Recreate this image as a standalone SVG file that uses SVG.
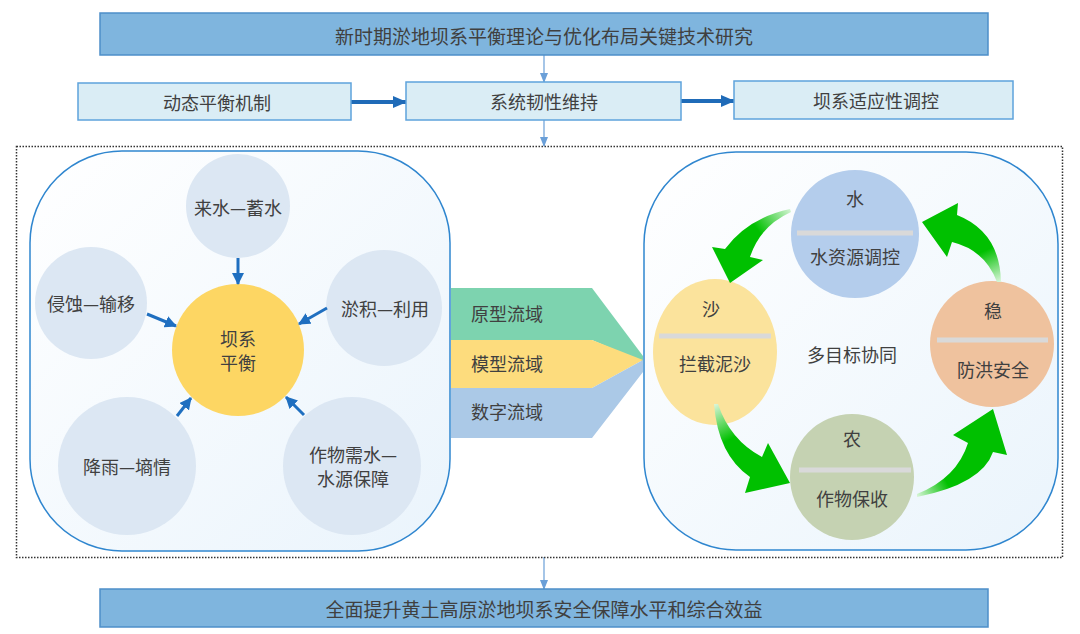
<svg xmlns="http://www.w3.org/2000/svg" width="1080" height="634" viewBox="0 0 1080 634">
<defs>
<style>
text{font-family:"Noto Sans CJK SC","Noto Sans",sans-serif;fill:#404040;font-size:18px;text-anchor:middle;dominant-baseline:central}
.big{font-size:19px}
.top{fill:#7fb5de;stroke:#4d8fc9;stroke-width:1.5}
.row{fill:#daedf5;stroke:#5ea3dc;stroke-width:1.5}
.panel{stroke:#2f86cf;stroke-width:1.5}
.sat{fill:#dce7f3}
.bar{stroke:#d9d9d9;stroke-width:5}
.thin{stroke:#6a9fd8;stroke-width:1.2;fill:none}
.thick{stroke:#1f6bb8;stroke-width:4;fill:none}
.blue{stroke:#1f6fc0;stroke-width:3;fill:none}
</style>
<marker id="mThin" markerWidth="10" markerHeight="10" refX="9" refY="5" orient="auto" markerUnits="userSpaceOnUse"><path d="M0,1 L10,5 L0,9 Z" fill="#6a9fd8"/></marker>
<marker id="mThick" markerWidth="14" markerHeight="14" refX="13" refY="7" orient="auto" markerUnits="userSpaceOnUse"><path d="M0,1 L14,7 L0,13 Z" fill="#1f6bb8"/></marker>
<marker id="mBlue" markerWidth="12" markerHeight="12" refX="11" refY="6" orient="auto" markerUnits="userSpaceOnUse"><path d="M0,0 L12,6 L0,12 Z" fill="#1f6fc0"/></marker>
<linearGradient id="panelG" x1="0" y1="0" x2="1" y2="1">
<stop offset="0" stop-color="#ffffff"/><stop offset="1" stop-color="#eaf4fc"/>
</linearGradient>
<linearGradient id="g1" gradientUnits="userSpaceOnUse" x1="792" y1="210" x2="740" y2="250"><stop offset="0" stop-color="#d8f5d8"/><stop offset="0.6" stop-color="#00c000"/></linearGradient>
<linearGradient id="g2" gradientUnits="userSpaceOnUse" x1="716" y1="404" x2="745" y2="460"><stop offset="0" stop-color="#d8f5d8"/><stop offset="0.6" stop-color="#00c000"/></linearGradient>
<linearGradient id="g3" gradientUnits="userSpaceOnUse" x1="917" y1="496" x2="965" y2="470"><stop offset="0" stop-color="#d8f5d8"/><stop offset="0.6" stop-color="#00c000"/></linearGradient>
<linearGradient id="g4" gradientUnits="userSpaceOnUse" x1="999" y1="282" x2="975" y2="230"><stop offset="0" stop-color="#d8f5d8"/><stop offset="0.6" stop-color="#00c000"/></linearGradient>
</defs>
<rect width="1080" height="634" fill="#ffffff"/>

<g id="connectors">
<line class="thin" x1="544" y1="55" x2="544" y2="82" marker-end="url(#mThin)"/>
<line class="thin" x1="544" y1="120" x2="544" y2="146" marker-end="url(#mThin)"/>
<line class="thin" x1="544" y1="557" x2="544" y2="589" marker-end="url(#mThin)"/>
<line class="thick" x1="351" y1="102" x2="406" y2="102" marker-end="url(#mThick)"/>
<line class="thick" x1="681" y1="101" x2="734" y2="101" marker-end="url(#mThick)"/>
</g>

<g id="title"><rect class="top" x="100" y="13" width="888" height="42"/><text class="big" x="544" y="35">新时期淤地坝系平衡理论与优化布局关键技术研究</text></g>
<g id="n-dongtai"><rect class="row" x="78" y="83" width="273" height="37"/><text x="217" y="102">动态平衡机制</text></g>
<g id="n-xitong"><rect class="row" x="406" y="82" width="275" height="38"/><text x="544" y="101">系统韧性维持</text></g>
<g id="n-bajixi"><rect class="row" x="734" y="81" width="279" height="38"/><text x="876" y="100">坝系适应性调控</text></g>

<g id="frame"><rect x="16.5" y="146.5" width="1046" height="411" fill="none" stroke="#333" stroke-width="1.5" stroke-dasharray="1.5,1.5"/></g>

<g id="left-panel">
<rect class="panel" x="30" y="151" width="420" height="400" rx="92" fill="url(#panelG)"/>
<g id="n-laishui"><circle class="sat" cx="238" cy="206" r="52"/><text x="238" y="207">来水—蓄水</text></g>
<g id="n-qinshi"><circle class="sat" cx="91" cy="303" r="56"/><text x="91" y="303">侵蚀—输移</text></g>
<g id="n-yuji"><circle class="sat" cx="384" cy="308" r="58"/><text x="385" y="308">淤积—利用</text></g>
<g id="n-jiangyu"><circle class="sat" cx="127" cy="466" r="69"/><text x="127" y="466">降雨—墒情</text></g>
<g id="n-zuowu"><circle class="sat" cx="352" cy="466" r="69"/><text x="353" y="454">作物需水—</text><text x="353" y="478">水源保障</text></g>
<g id="n-center"><circle cx="238" cy="350" r="66" fill="#fdd663"/><text x="238" y="338">坝系</text><text x="238" y="362">平衡</text></g>
<g id="left-arrows">
<line class="blue" x1="238" y1="258" x2="238" y2="284" marker-end="url(#mBlue)"/>
<line class="blue" x1="147" y1="314" x2="176" y2="326" marker-end="url(#mBlue)"/>
<line class="blue" x1="327" y1="308" x2="299" y2="324" marker-end="url(#mBlue)"/>
<line class="blue" x1="177" y1="416" x2="191" y2="398" marker-end="url(#mBlue)"/>
<line class="blue" x1="304" y1="415" x2="286" y2="397" marker-end="url(#mBlue)"/>
</g>
</g>

<g id="domains">
<polygon points="451,288 592,288 643,356 643,362 592,340 451,340" fill="#7dd3af"/>
<polygon points="451,340 592,340 643,360 592,388 451,388" fill="#fddc7d"/>
<polygon points="451,388 592,388 643,360 643,372 592,438 451,438" fill="#abc9e7"/>
<text x="507" y="313">原型流域</text>
<text x="507" y="363">模型流域</text>
<text x="507" y="411">数字流域</text>
</g>

<g id="right-panel">
<rect class="panel" x="644" y="152" width="414" height="398" rx="92" fill="url(#panelG)"/>
<g id="n-shui"><ellipse cx="855" cy="234" rx="64" ry="64" fill="#b4cdec"/><line class="bar" x1="797" y1="233" x2="913" y2="233"/><text x="855" y="198">水</text><text x="855" y="256">水资源调控</text></g>
<g id="n-sha"><ellipse cx="715" cy="352" rx="62" ry="73" fill="#fbe39c"/><line class="bar" x1="659" y1="336" x2="771" y2="336"/><text x="711" y="308">沙</text><text x="715" y="363">拦截泥沙</text></g>
<g id="n-wen"><ellipse cx="992" cy="344" rx="62" ry="63" fill="#efc29e"/><line class="bar" x1="937" y1="340" x2="1048" y2="340"/><text x="993" y="310">稳</text><text x="993" y="369">防洪安全</text></g>
<g id="n-nong"><ellipse cx="852" cy="477" rx="62" ry="63" fill="#c5d2b2"/><line class="bar" x1="799" y1="470" x2="911" y2="470"/><text x="852" y="438">农</text><text x="852" y="498">作物保收</text></g>
<text x="852" y="354">多目标协同</text>
<g id="green-arrows">
<path d="M790,209 Q748,218 725,249 L712,247 L730,283 L763,260 L750,257 Q760,226 791,212 Z" fill="url(#g1)"/>
<path d="M714,404 Q718,455 750,477 L745,493 L790,483 L768,443 L762,457 Q730,440 718,404 Z" fill="url(#g2)"/>
<path d="M917,497 Q982,484 993,452 L1007,455 L993,409 L953,435 L968,443 Q957,478 917,494 Z" fill="url(#g3)"/>
<path d="M1001,282 Q1000,232 957,215 L958,203 L922,222 L947,257 L952,242 Q985,250 997,282 Z" fill="url(#g4)"/>
</g>
</g>

<g id="result"><rect class="top" x="100" y="589" width="888" height="38"/><text class="big" x="544" y="608">全面提升黄土高原淤地坝系安全保障水平和综合效益</text></g>
</svg>
